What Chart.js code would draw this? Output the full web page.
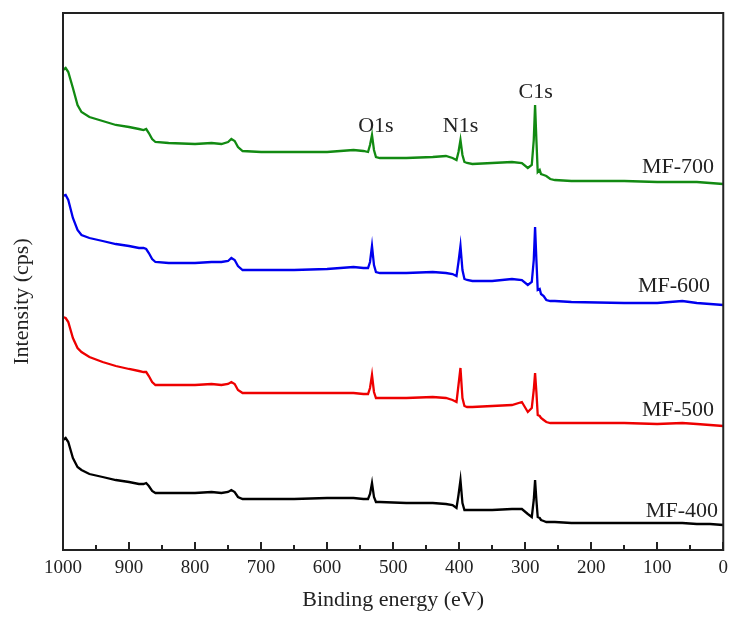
<!DOCTYPE html>
<html>
<head>
<meta charset="utf-8">
<title>XPS survey spectra</title>
<script src="https://cdn.jsdelivr.net/npm/chart.js@4.4.0/dist/chart.umd.min.js"></script>
<style>
  body { margin: 0; background: #fff; }
  canvas { display: block; }
</style>
</head>
<body>
<canvas id="xpsChart" width="735" height="617"></canvas>
<script>
// binding energy grid (eV), shared by all four spectra
const energy = [1000, 996, 992, 985, 978, 972, 960, 940, 920, 900, 885, 878, 874, 870, 865, 860, 840, 800, 775, 760,
    750, 745, 740, 735, 728, 700, 650, 600, 560, 545, 538, 535, 532, 529, 526, 520, 480, 440, 420, 410,
    404, 401, 398, 395, 392, 388, 380, 350, 320, 305, 296, 290, 287, 285, 283, 281, 278, 276, 272, 268,
    262, 255, 230, 150, 100, 62, 40, 20, 0];

// intensities (arbitrary, offset stacked)
const mf700 = [480, 482, 478, 462, 445, 438, 433, 429, 425, 423, 421, 420, 421, 417, 411, 408, 407, 406, 407, 406,
    408, 411, 409, 403, 399, 398, 398, 398, 400, 399, 398, 405, 415, 400, 393, 392, 392, 393, 394, 392,
    390, 398, 410, 395, 388, 387, 386, 387, 388, 387, 382, 385, 410, 445, 410, 378, 380, 376, 375, 374,
    371, 370, 369, 369, 368, 368, 368, 367, 366];
const mf600 = [354, 355, 350, 332, 320, 315, 312, 309, 306, 304, 302, 302, 301, 297, 291, 288, 287, 287, 288, 288,
    289, 292, 290, 284, 280, 280, 280, 281, 283, 282, 282, 288, 304, 285, 278, 277, 277, 278, 277, 276,
    274, 288, 304, 280, 271, 270, 269, 269, 271, 270, 265, 268, 290, 323, 290, 260, 261, 256, 254, 250,
    249, 249, 248, 247, 247, 249, 247, 246, 245];
const mf500 = [233, 232, 228, 212, 202, 198, 193, 188, 184, 181, 179, 178, 178, 174, 168, 165, 165, 165, 166, 165,
    166, 168, 166, 160, 157, 157, 157, 157, 157, 156, 156, 162, 175, 158, 152, 152, 152, 153, 152, 150,
    148, 165, 182, 152, 144, 143, 143, 144, 145, 148, 138, 142, 160, 177, 158, 135, 134, 132, 130, 128,
    127, 127, 127, 127, 126, 127, 126, 125, 124];
const mf400 = [110, 112, 108, 92, 83, 80, 76, 73, 70, 68, 66, 66, 67, 64, 59, 57, 57, 57, 58, 57,
    58, 60, 58, 53, 51, 51, 51, 52, 52, 51, 51, 56, 67, 53, 48, 48, 47, 47, 46, 45,
    42, 55, 70, 47, 40, 40, 40, 40, 41, 41, 36, 33, 50, 70, 50, 33, 32, 30, 29, 28,
    28, 28, 27, 27, 27, 27, 26, 26, 25];

const seriesNames = ['MF-400', 'MF-500', 'MF-600', 'MF-700'];
const seriesColors = ['#000000', '#ee0000', '#0000ee', '#128a12'];

// where the sample names sit (eV, intensity of baseline)
const nameEnergy = [8, 14, 20, 14];
const nameLevel = [33, 134, 258, 377];

// core-level labels
const peakNames = ['O1s', 'N1s', 'C1s'];
const peakEnergy = [526, 398, 284];
const peakLevel = [418, 418, 452];

const xMajorTicks = [1000, 900, 800, 700, 600, 500, 400, 300, 200, 100, 0];
const xMinorTicks = [950, 850, 750, 650, 550, 450, 350, 250, 150, 50];

const serif = "'Liberation Serif', 'Times New Roman', serif";

function toPoints(values) {
    return energy.map((e, i) => ({ x: e, y: values[i] }));
}

const spectra = [mf400, mf500, mf600, mf700];

const framePlugin = {
    id: 'frame',
    afterDatasetsDraw(chart) {
        const { ctx, chartArea, scales } = chart;
        const xs = scales.x, ys = scales.y;
        ctx.save();

        // inward ticks on the energy axis
        ctx.strokeStyle = '#222';
        ctx.lineWidth = 2;
        ctx.beginPath();
        for (const t of xMajorTicks) {
            const px = Math.round(xs.getPixelForValue(t));
            ctx.moveTo(px, chartArea.bottom);
            ctx.lineTo(px, chartArea.bottom - 8);
        }
        for (const t of xMinorTicks) {
            const px = Math.round(xs.getPixelForValue(t));
            ctx.moveTo(px, chartArea.bottom);
            ctx.lineTo(px, chartArea.bottom - 5);
        }
        ctx.stroke();

        // box
        ctx.strokeRect(chartArea.left, chartArea.top, chartArea.right - chartArea.left, chartArea.bottom - chartArea.top);

        // sample names
        ctx.fillStyle = '#222';
        ctx.font = '22px ' + serif;
        ctx.textAlign = 'right';
        ctx.textBaseline = 'alphabetic';
        seriesNames.forEach((name, i) => {
            ctx.fillText(name, xs.getPixelForValue(nameEnergy[i]), ys.getPixelForValue(nameLevel[i]));
        });

        // peak labels
        ctx.textAlign = 'center';
        peakNames.forEach((name, i) => {
            ctx.fillText(name, xs.getPixelForValue(peakEnergy[i]), ys.getPixelForValue(peakLevel[i]));
        });

        // y axis title
        ctx.translate(22, (chartArea.top + chartArea.bottom) / 2 + 20);
        ctx.rotate(-Math.PI / 2);
        ctx.textBaseline = 'middle';
        ctx.fillText('Intensity (cps)', 0, 0);
        ctx.restore();
    }
};

const xpsChart = new Chart(document.getElementById('xpsChart'), {
    type: 'line',
    data: {
        datasets: spectra.map((vals, i) => ({
            label: seriesNames[i],
            data: toPoints(vals),
            borderColor: seriesColors[i],
            borderWidth: 2.3,
            pointRadius: 0,
            tension: 0,
            fill: false
        }))
    },
    options: {
        responsive: false,
        animation: false,
        layout: { padding: { top: 13, right: 9, left: 0, bottom: 0 } },
        plugins: {
            legend: { display: false },
            tooltip: { enabled: false }
        },
        scales: {
            x: {
                type: 'linear',
                min: 0,
                max: 1000,
                reverse: true,
                grid: { display: false, drawTicks: false },
                border: { display: false },
                afterBuildTicks: (scale) => {
                    scale.ticks = xMajorTicks.map(v => ({ value: v }));
                },
                afterFit: (scale) => { scale.height = 67; },
                ticks: {
                    maxRotation: 0,
                    autoSkip: false,
                    padding: 7,
                    color: '#222',
                    font: { family: serif, size: 19 },
                    callback: (value) => String(value)
                },
                title: {
                    display: true,
                    text: 'Binding energy (eV)',
                    color: '#222',
                    font: { family: serif, size: 22 },
                    padding: { top: 0, bottom: 4 }
                }
            },
            y: {
                type: 'linear',
                min: 0,
                max: 537,
                grid: { display: false, drawTicks: false },
                border: { display: false },
                ticks: { display: false },
                afterFit: (scale) => { scale.width = 63; }
            }
        }
    },
    plugins: [framePlugin]
});
</script>
</body>
</html>
